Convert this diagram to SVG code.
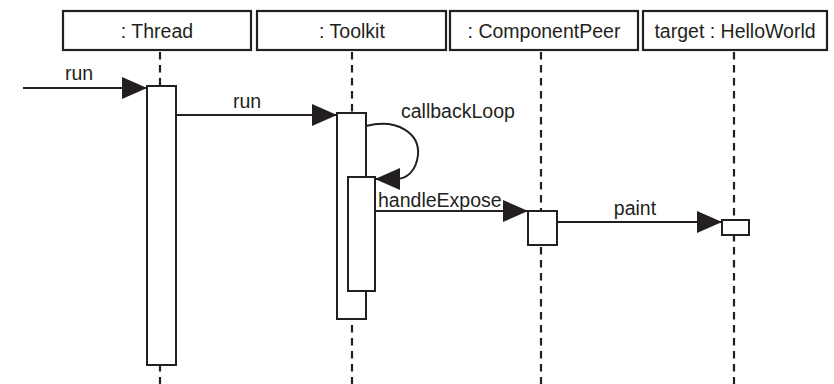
<svg xmlns="http://www.w3.org/2000/svg" width="834" height="384" viewBox="0 0 834 384">
<style>
.box{fill:#fff;stroke:#231f20;stroke-width:2.2}
.act{fill:#fff;stroke:#231f20;stroke-width:2}
.life{stroke:#231f20;stroke-width:2.2;stroke-dasharray:7.5 5.5;fill:none}
.msg{stroke:#231f20;stroke-width:2;fill:none;marker-end:url(#ah)}
text{font-family:"Liberation Sans",Arial,Helvetica,sans-serif;font-size:19.5px;fill:#231f20}
.c{text-anchor:middle}
</style>
<defs>
<marker id="ah" markerUnits="userSpaceOnUse" markerWidth="26" markerHeight="22" refX="25" refY="11" orient="auto">
<path d="M0,0 L25,11 L0,22 z" fill="#231f20"/>
</marker>
</defs>
<rect width="834" height="384" fill="#fff"/>
<g id="thread">
<line class="life" x1="160" y1="52" x2="160" y2="384"/>
<rect class="box" x="63" y="11" width="188" height="39"/>
<text class="c" x="157" y="38">: Thread</text>
<rect class="act" x="147" y="86" width="29" height="279"/>
</g>
<g id="toolkit">
<line class="life" x1="352" y1="52" x2="352" y2="384"/>
<rect class="box" x="257" y="11" width="189" height="39"/>
<text class="c" x="352" y="38">: Toolkit</text>
<rect class="act" x="337" y="113" width="29" height="206"/>
<rect class="act" x="348" y="177" width="27" height="114"/>
</g>
<g id="componentpeer">
<line class="life" x1="541" y1="52" x2="541" y2="384"/>
<rect class="box" x="450" y="11" width="188" height="39"/>
<text class="c" x="544" y="38">: ComponentPeer</text>
<rect class="act" x="528" y="211" width="29" height="34"/>
</g>
<g id="helloworld">
<line class="life" x1="734" y1="52" x2="734" y2="384"/>
<rect class="box" x="643" y="11" width="184" height="39"/>
<text class="c" x="735" y="38">target : HelloWorld</text>
<rect class="act" x="722" y="220" width="27" height="15"/>
</g>
<g id="connectors">
<line class="msg" x1="23" y1="88" x2="147" y2="88"/>
<text x="65" y="80">run</text>
<line class="msg" x1="176" y1="115" x2="337" y2="115"/>
<text class="c" x="247" y="108">run</text>
<path class="msg" d="M366,126 C398,118 420,134 418,155 C416,172 406,179 396,179 L375,179"/>
<text x="401" y="118">callbackLoop</text>
<line class="msg" x1="375" y1="211" x2="528" y2="211"/>
<text x="378" y="207">handleExpose</text>
<line class="msg" x1="557" y1="222" x2="722" y2="222"/>
<text class="c" x="635" y="215">paint</text>
</g>
</svg>
